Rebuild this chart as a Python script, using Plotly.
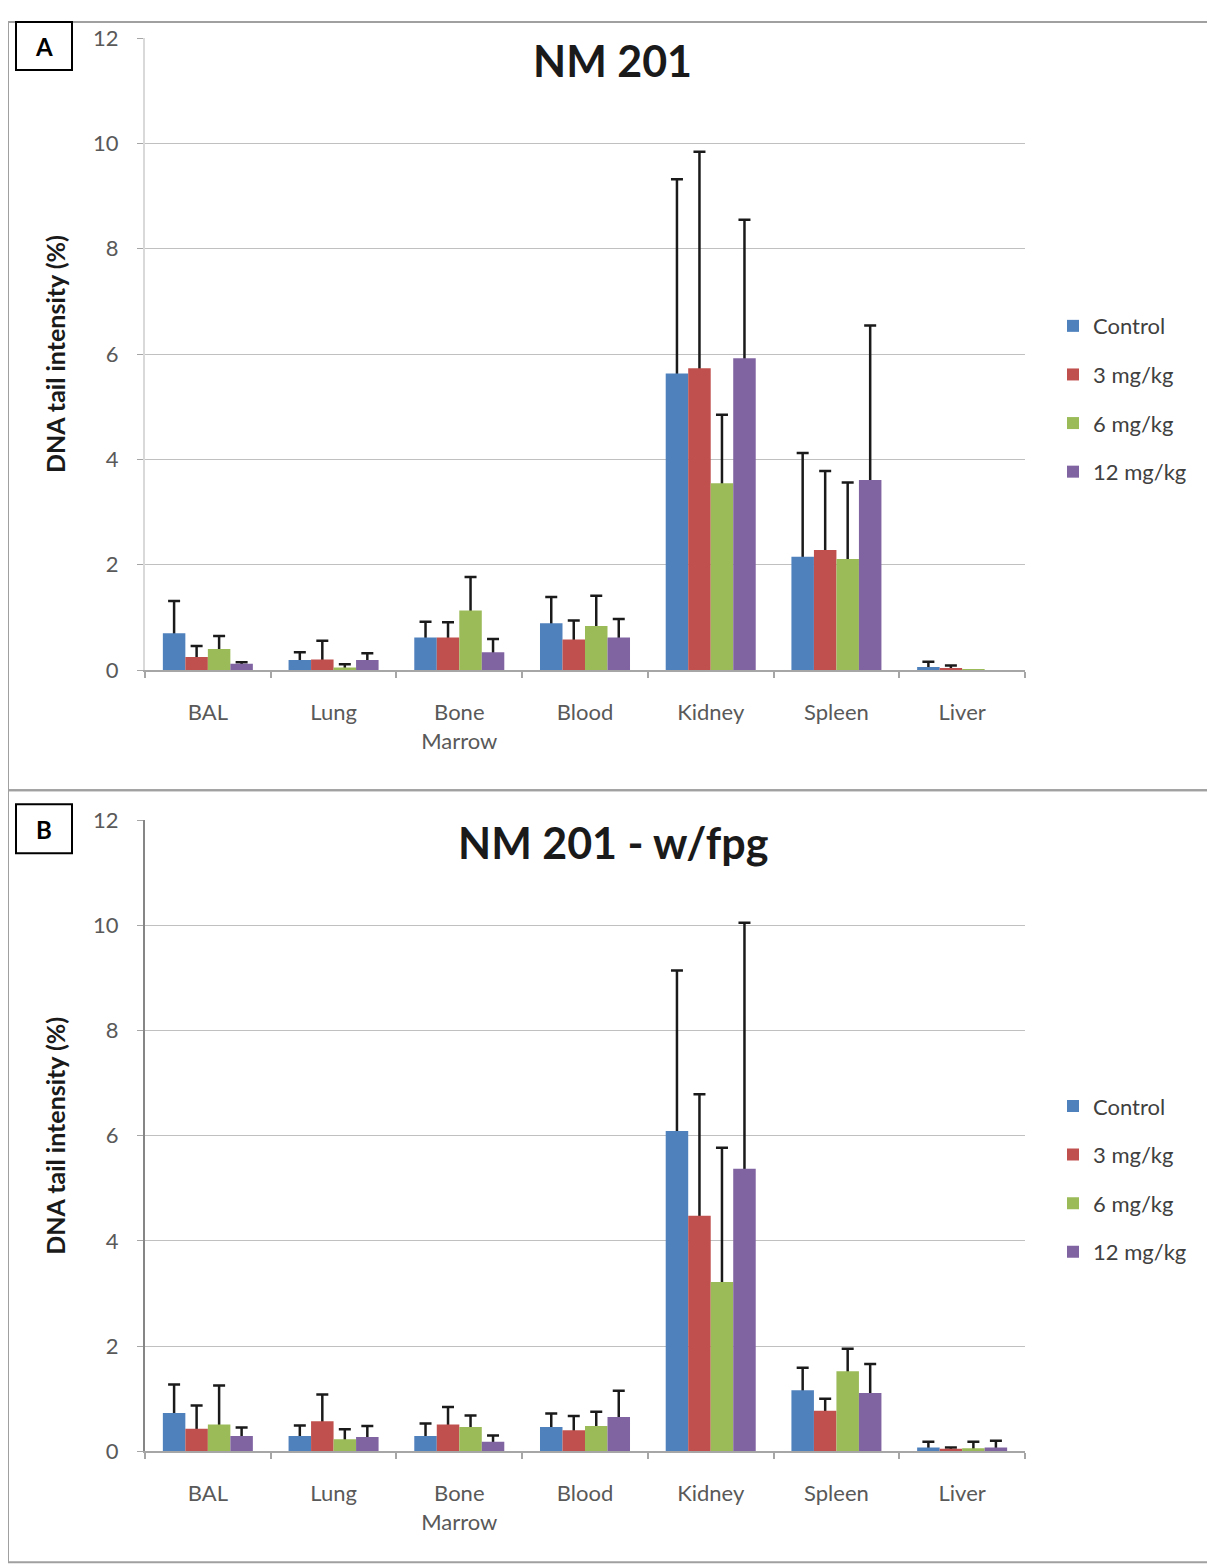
import plotly.graph_objects as go

# page placement calibration (figure drawn inside the 1215x1565 window)
FW, FH = 1207, 1570
X_OFF = 8
Y_OFF, Y_SCALE = 22, 0.9826

categories = ["BAL", "Lung", "Bone<br>Marrow", "Blood", "Kidney", "Spleen", "Liver"]
series_names = ["Control", "3 mg/kg", "6 mg/kg", "12 mg/kg"]
colors = ["#4F81BD", "#C0504D", "#9BBB59", "#8064A2"]
y_ticks = [0, 2, 4, 6, 8, 10, 12]

# Panel A: NM 201   (None = no error bar visible)
a_control = [0.70, 0.19, 0.62, 0.89, 5.63, 2.15, 0.06]
a_3mg = [0.25, 0.20, 0.62, 0.58, 5.73, 2.28, 0.04]
a_6mg = [0.40, 0.05, 1.13, 0.84, 3.55, 2.11, 0.02]
a_12mg = [0.12, 0.19, 0.34, 0.62, 5.92, 3.61, 0.00]
a_control_sd = [0.61, 0.15, 0.30, 0.50, 3.69, 1.97, 0.10]
a_3mg_sd = [0.21, 0.36, 0.29, 0.36, 4.11, 1.50, 0.05]
a_6mg_sd = [0.25, 0.06, 0.64, 0.57, 1.30, 1.45, None]
a_12mg_sd = [0.03, 0.13, 0.25, 0.35, 2.63, 2.93, None]

# Panel B: NM 201 - w/fpg
b_control = [0.73, 0.29, 0.29, 0.46, 6.09, 1.16, 0.07]
b_3mg = [0.43, 0.57, 0.51, 0.40, 4.48, 0.77, 0.05]
b_6mg = [0.51, 0.23, 0.46, 0.48, 3.22, 1.52, 0.06]
b_12mg = [0.29, 0.27, 0.18, 0.65, 5.37, 1.11, 0.07]
b_control_sd = [0.54, 0.20, 0.24, 0.26, 3.05, 0.43, 0.11]
b_3mg_sd = [0.44, 0.51, 0.33, 0.27, 2.31, 0.23, 0.02]
b_6mg_sd = [0.74, 0.19, 0.22, 0.27, 2.55, 0.43, 0.12]
b_12mg_sd = [0.16, 0.21, 0.12, 0.50, 4.68, 0.55, 0.13]

panels = [
    dict(means=[a_control, a_3mg, a_6mg, a_12mg],
         sds=[a_control_sd, a_3mg_sd, a_6mg_sd, a_12mg_sd],
         xa="x", ya="y", legend="legend"),
    dict(means=[b_control, b_3mg, b_6mg, b_12mg],
         sds=[b_control_sd, b_3mg_sd, b_6mg_sd, b_12mg_sd],
         xa="x2", ya="y2", legend="legend2"),
]

FONT = "Lato, 'Open Sans', sans-serif"


def error_arrays(means, sds):
    # trailing points without an error bar are left out of the error arrays
    n = len(sds)
    while n > 0 and sds[n - 1] is None:
        n -= 1
    up = [0 if v is None else v for v in sds[:n]]
    return up, list(means[:n])


fig = go.Figure()
for p in panels:
    # error-bar carriers first (drawn underneath the coloured bars)
    for k in range(4):
        up, down = error_arrays(p["means"][k], p["sds"][k])
        fig.add_trace(go.Bar(
            x=categories, y=p["means"][k], xaxis=p["xa"], yaxis=p["ya"],
            offsetgroup=str(k), marker=dict(color="rgba(0,0,0,0)", line=dict(width=0)),
            error_y=dict(type="data", symmetric=False, array=up,
                         arrayminus=down, color="#1a1a1a",
                         thickness=2.5, width=6),
            showlegend=False, hoverinfo="skip", legend=p["legend"]))
    for k in range(4):
        fig.add_trace(go.Bar(
            x=categories, y=p["means"][k], xaxis=p["xa"], yaxis=p["ya"],
            offsetgroup=str(k), name=series_names[k], legendgroup=series_names[k],
            marker=dict(color=colors[k], line=dict(width=0)),
            legend=p["legend"]))


def px_x(v):
    return min(max((v - X_OFF) / FW, 0), 1)


def px_y(v):
    return min(max(1 - ((v - Y_OFF) / Y_SCALE) / FH, 0), 1)


xdom = [px_x(145), px_x(1025)]
ydomA = [px_y(670), px_y(38)]
ydomB = [px_y(1451), px_y(820)]

common_x = dict(showline=True, linecolor="#A6A6A6", linewidth=1.5,
                ticks="outside", ticklen=6, tickcolor="#A6A6A6", tickwidth=1.5,
                tickson="boundaries", showgrid=False,
                tickfont=dict(family=FONT, size=22, color="#595959"),
                ticklabelstandoff=22, fixedrange=True)
common_y = dict(range=[0, 12], tickvals=y_ticks, showgrid=True, gridcolor="#C0C0C0",
                gridwidth=1.3, zeroline=False, showline=True, linewidth=2,
                ticks="outside", ticklen=6, tickcolor="#A6A6A6",
                tickfont=dict(family=FONT, size=22, color="#595959"),
                ticklabelstandoff=14, fixedrange=True,
                title=dict(text="DNA tail intensity (%)", standoff=20,
                           font=dict(family=FONT, size=25, weight="bold", color="#1a1a1a")))

legend_common = dict(xanchor="left", yanchor="top", bgcolor="rgba(0,0,0,0)",
                     font=dict(family=FONT, size=22, color="#404040"),
                     traceorder="grouped", tracegroupgap=17)

shapes = [
    dict(type="rect", xref="paper", yref="paper", x0=px_x(6), x1=px_x(1213),
         y0=px_y(790), y1=px_y(8), line=dict(color="#A0A0A0", width=2)),
    dict(type="rect", xref="paper", yref="paper", x0=px_x(6), x1=px_x(1213),
         y0=px_y(1562), y1=px_y(790), line=dict(color="#A0A0A0", width=2)),
    dict(type="rect", xref="paper", yref="paper", x0=px_x(16), x1=px_x(72),
         y0=px_y(70), y1=px_y(20), line=dict(color="#000000", width=2)),
    dict(type="rect", xref="paper", yref="paper", x0=px_x(16), x1=px_x(72),
         y0=px_y(853), y1=px_y(804), line=dict(color="#000000", width=2)),
]

annotations = [
    dict(text="NM 201", x=px_x(612), y=px_y(60), xref="paper", yref="paper",
         showarrow=False, xanchor="center", yanchor="middle",
         font=dict(family=FONT, size=43, weight="bold", color="#1a1a1a")),
    dict(text="NM 201 - w/fpg", x=px_x(613), y=px_y(842), xref="paper", yref="paper",
         showarrow=False, xanchor="center", yanchor="middle",
         font=dict(family=FONT, size=43, weight="bold", color="#1a1a1a")),
    dict(text="A", x=px_x(44), y=px_y(46), xref="paper", yref="paper",
         showarrow=False, xanchor="center", yanchor="middle",
         font=dict(family=FONT, size=24, weight="bold", color="#000000")),
    dict(text="B", x=px_x(44), y=px_y(829), xref="paper", yref="paper",
         showarrow=False, xanchor="center", yanchor="middle",
         font=dict(family=FONT, size=24, weight="bold", color="#000000")),
]

fig.update_layout(
    width=FW, height=FH, margin=dict(l=0, r=0, t=0, b=0),
    paper_bgcolor="white", plot_bgcolor="white",
    barmode="group", bargap=0.284, bargroupgap=0,
    xaxis=dict(domain=xdom, anchor="y", **common_x),
    yaxis=dict(domain=ydomA, anchor="x", linecolor="#D9D9D9", **common_y),
    xaxis2=dict(domain=xdom, anchor="y2", **common_x),
    yaxis2=dict(domain=ydomB, anchor="x2", linecolor="#868686", **common_y),
    legend=dict(x=px_x(1053), y=px_y(305), **legend_common),
    legend2=dict(x=px_x(1053), y=px_y(1085), **legend_common),
    shapes=shapes, annotations=annotations,
)

fig.write_html("out.html")
